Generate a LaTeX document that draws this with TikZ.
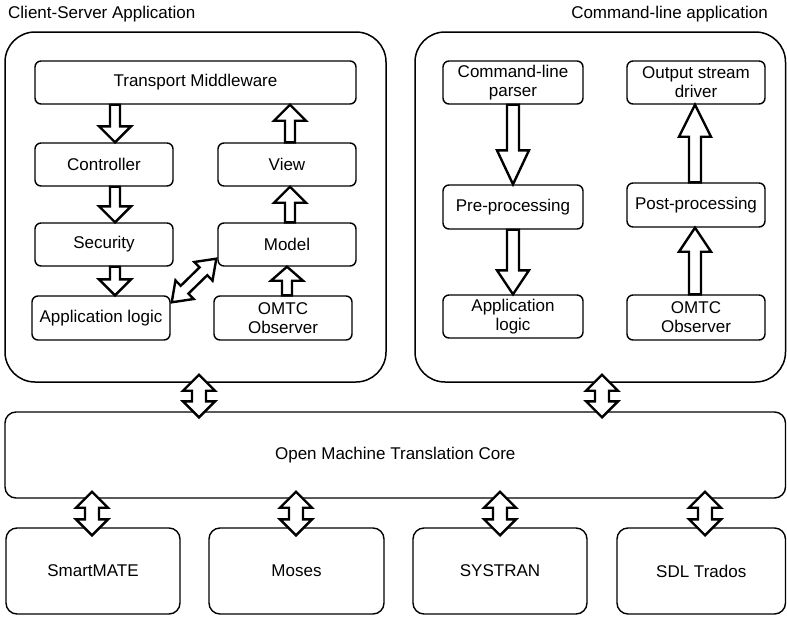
\documentclass[tikz,border=0pt]{standalone}
\usepackage{fontspec}
\setmainfont{Liberation Sans}
\usetikzlibrary{calc}
\tikzset{
  box/.style={draw, line width=1.4pt, rounded corners=6pt, align=center, inner sep=0pt},
  bigbox/.style={draw, line width=1.4pt, rounded corners=11pt, align=center, inner sep=0pt},
  container/.style={draw, line width=1.5pt, rounded corners=30pt, inner sep=0pt},
  arrowline/.style={draw, fill=white, line width=2.4pt, line join=miter},
  title/.style={inner sep=0pt}
}
\newcommand\blockarr[5]{%
  \coordinate (BA) at (#1); \coordinate (BB) at (#2);
  \coordinate (BH) at ($(BB)!#5!(BA)$);
  \draw[arrowline] ($(BA)!#3!90:(BB)$) -- ($(BH)!#3!90:(BB)$) -- ($(BH)!#4!90:(BB)$) -- (BB)
    -- ($(BH)!#4!-90:(BB)$) -- ($(BH)!#3!-90:(BB)$) -- ($(BA)!#3!-90:(BB)$) -- cycle;}
\newcommand\dblarr[5]{%
  \coordinate (BA) at (#1); \coordinate (BB) at (#2);
  \coordinate (BH1) at ($(BA)!#5!(BB)$); \coordinate (BH2) at ($(BB)!#5!(BA)$);
  \draw[arrowline] (BA) -- ($(BH1)!#4!90:(BB)$) -- ($(BH1)!#3!90:(BB)$) -- ($(BH2)!#3!90:(BB)$)
    -- ($(BH2)!#4!90:(BB)$) -- (BB) -- ($(BH2)!#4!-90:(BB)$) -- ($(BH2)!#3!-90:(BB)$)
    -- ($(BH1)!#3!-90:(BB)$) -- ($(BH1)!#4!-90:(BB)$) -- cycle;}
\begin{document}
\begin{tikzpicture}[x=1pt, y=-1pt, font=\fontsize{17}{19}\selectfont]
\useasboundingbox (0,0) rectangle (787,616);

% titles
\node[title, anchor=west] (t1) at (8,14) {Client-Server Application};
\node[title, anchor=east] (t2) at (768,14) {Command-line application};

% containers
\node[container, minimum width=381, minimum height=350] (CS) at (195.5,207) {};
\node[container, minimum width=370.5, minimum height=350] (CL) at (600.25,207) {};

% client-server boxes
\node[box, minimum width=321, minimum height=43] (tm) at (195.5,82.5) {Transport Middleware};
\node[box, minimum width=138, minimum height=43] (ctrl) at (104,164.5) {Controller};
\node[box, minimum width=138, minimum height=43] (view) at (287,164.5) {View};
\node[box, minimum width=138, minimum height=43] (sec) at (104,244.5) {Security};
\node[box, minimum width=138, minimum height=43] (model) at (287,244.5) {Model};
\node[box, minimum width=138, minimum height=44] (appl) at (101,318) {Application logic};
\node[box, minimum width=138, minimum height=44] (obs1) at (283,318) {OMTC\\Observer};

% command-line boxes
\node[box, minimum width=140, minimum height=43] (parser) at (513,82.5) {Command-line\\parser};
\node[box, minimum width=138, minimum height=43] (out) at (696,82.5) {Output stream\\driver};
\node[box, minimum width=140, minimum height=44] (pre) at (513,207) {Pre-processing};
\node[box, minimum width=138, minimum height=44] (post) at (696,205) {Post-processing};
\node[box, minimum width=140, minimum height=43] (appl2) at (513,316.5) {Application\\logic};
\node[box, minimum width=138, minimum height=45] (obs2) at (696,317.5) {OMTC\\Observer};

% core and engines
\node[bigbox, minimum width=780.5, minimum height=86] (core) at (395.25,455) {Open Machine Translation Core};
\node[bigbox, minimum width=174, minimum height=86] (smart) at (93,571) {SmartMATE};
\node[bigbox, minimum width=175, minimum height=86] (moses) at (296.5,571) {Moses};
\node[bigbox, minimum width=174, minimum height=86] (systran) at (500,571) {SYSTRAN};
\node[bigbox, minimum width=168.5, minimum height=86] (sdl) at (701.25,571) {SDL Trados};

% column helpers
\coordinate (xL) at (115,0);
\coordinate (xR) at (290,0);
\coordinate (xR2) at (287,0);
\coordinate (xP) at (513,0);
\coordinate (xO) at (695,0);
\coordinate (xa) at (199,0);
\coordinate (xb) at (602,0);
\coordinate (xc) at (92,0);
\coordinate (xd) at (296,0);
\coordinate (xe) at (500,0);
\coordinate (xf) at (705,0);

% client-server arrows
\blockarr{xL |- tm.south}{xL |- ctrl.north}{5pt}{16pt}{16pt}
\blockarr{xL |- ctrl.south}{xL |- sec.north}{5pt}{16pt}{16pt}
\blockarr{xL |- sec.south}{xL |- appl.north}{5pt}{16pt}{16pt}
\blockarr{xR |- view.north}{xR |- tm.south}{5pt}{16pt}{16pt}
\blockarr{xR |- model.north}{xR |- view.south}{5pt}{16pt}{16pt}
\blockarr{xR2 |- obs1.north}{xR2 |- model.south}{5pt}{16pt}{14pt}
\dblarr{$(appl.north east)+(1,7)$}{$(model.south west)+(-1,-8)$}{5.5pt}{13pt}{18pt}

% command-line arrows
\blockarr{xP |- parser.south}{xP |- pre.north}{6pt}{16pt}{34pt}
\blockarr{xP |- pre.south}{xP |- appl2.north}{6pt}{16pt}{24pt}
\blockarr{xO |- obs2.north}{xO |- post.south}{6pt}{16pt}{24pt}
\blockarr{xO |- post.north}{xO |- out.south}{6pt}{16pt}{32pt}

% double arrows to core
\dblarr{$(xa |- CS.south)+(0,-8)$}{$(xa |- core.north)+(0,6)$}{7pt}{16pt}{16pt}
\dblarr{$(xb |- CL.south)+(0,-8)$}{$(xb |- core.north)+(0,6)$}{7pt}{16pt}{16pt}
\dblarr{$(xc |- core.south)+(0,-7)$}{$(xc |- smart.north)+(0,8)$}{7pt}{16pt}{16pt}
\dblarr{$(xd |- core.south)+(0,-7)$}{$(xd |- moses.north)+(0,8)$}{7pt}{16pt}{16pt}
\dblarr{$(xe |- core.south)+(0,-7)$}{$(xe |- systran.north)+(0,8)$}{7pt}{16pt}{16pt}
\dblarr{$(xf |- core.south)+(0,-7)$}{$(xf |- sdl.north)+(0,8)$}{7pt}{16pt}{16pt}
\end{tikzpicture}
\end{document}
